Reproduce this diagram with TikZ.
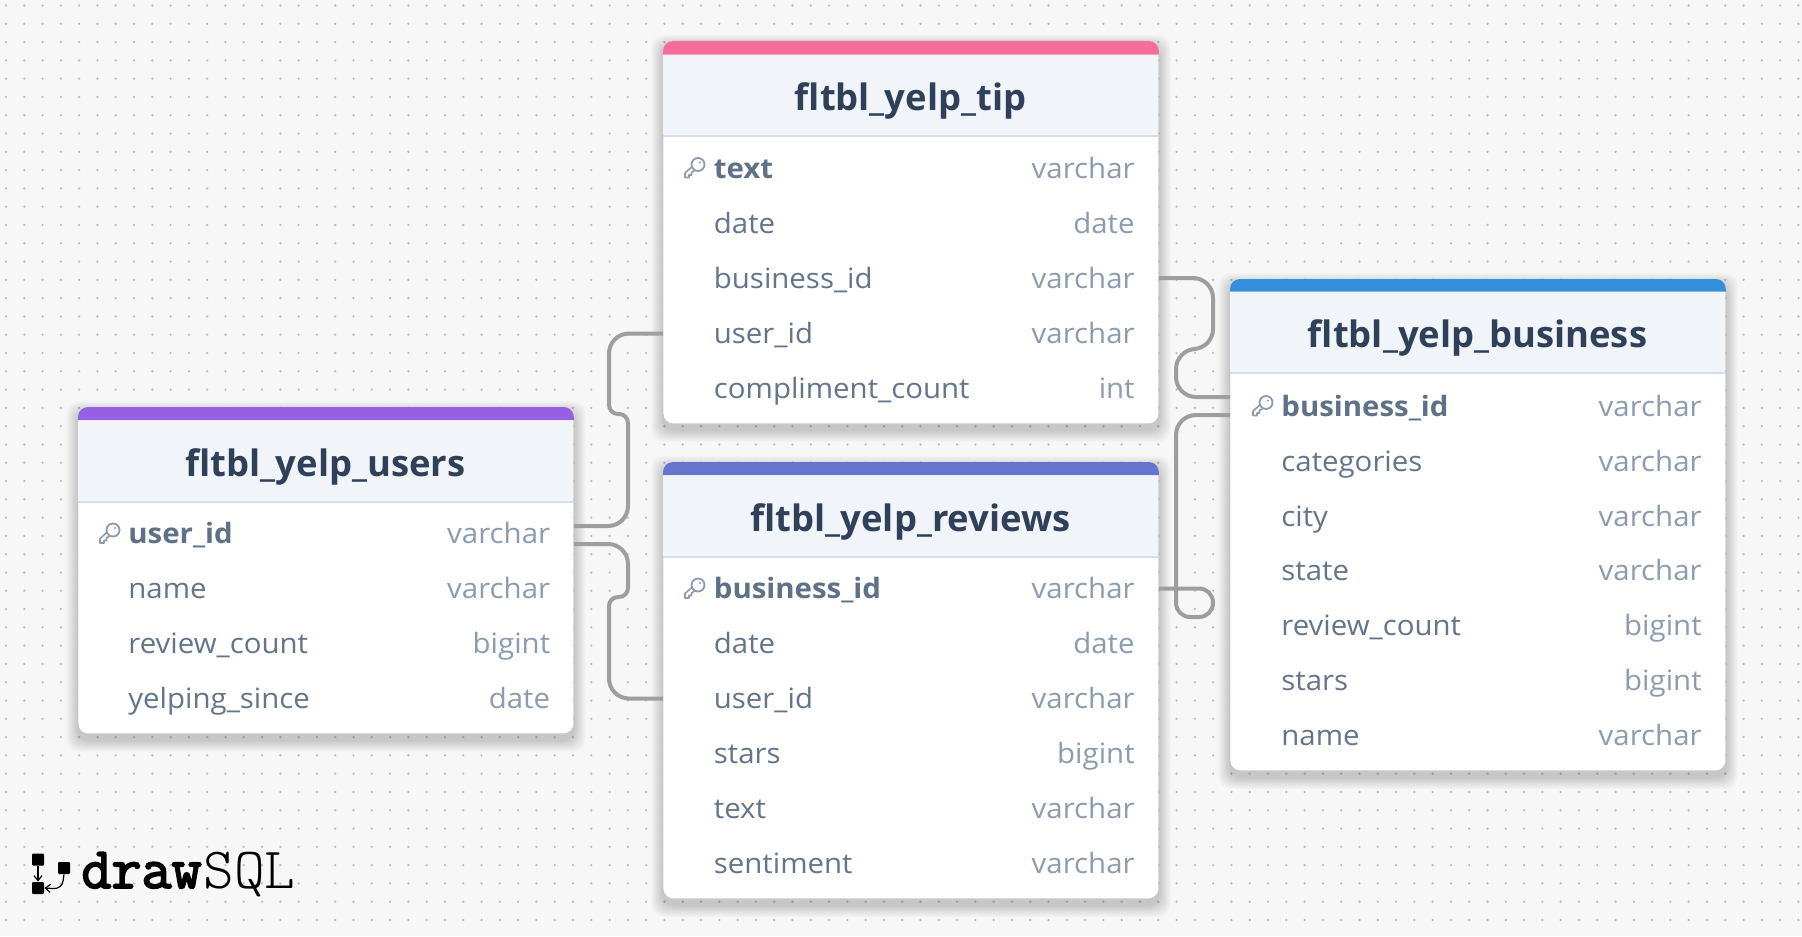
\documentclass[tikz,border=0pt]{standalone}
\usepackage{fontspec}
\usepackage{tikz}
\usepackage{xcolor}
\usetikzlibrary{arrows.meta}
\setmainfont[FakeStretch=1.05]{Open Sans}
\newfontfamily\titlefont{Open Sans}
\newfontfamily\logobold[FakeBold=3]{Latin Modern Mono}
\newfontfamily\logothin{Latin Modern Mono Light}

\definecolor{pagebg}{HTML}{F7F7F7}
\definecolor{griddot}{HTML}{BDBDBD}
\definecolor{relgray}{HTML}{9E9E9E}
\definecolor{headbg}{HTML}{F1F5F9}
\definecolor{headrule}{HTML}{D5DFEA}
\definecolor{titleink}{HTML}{2F4058}
\definecolor{keyink}{HTML}{5F7186}
\definecolor{nameink}{HTML}{64748B}
\definecolor{typeink}{HTML}{8C9BB0}
\definecolor{tippink}{HTML}{F66D9B}
\definecolor{revindigo}{HTML}{6574CD}
\definecolor{busblue}{HTML}{3490DC}
\definecolor{userpurple}{HTML}{9561E2}

\newcommand{\softshadow}[1]{
	\foreach \r in {1,...,12} {
		\fill[black,opacity=0.014,rounded corners=6pt]
			([shift={(-\r,{6-\r})}]#1.north west) rectangle ([shift={(\r,{6+\r})}]#1.south east);
	}
}

\tikzset{
	griddots/.style={griddot,line width=1.3pt,line cap=round,dash pattern=on 0pt off 9.145pt},
	tablebody/.style={anchor=north west,fill=white,rounded corners=5pt,inner sep=0pt,minimum width=247.5pt},
	headbox/.style={fill=headbg,inner sep=0pt,minimum width=247.5pt,minimum height=40.5pt,
		text=titleink,text height=16pt,text depth=0.8pt,font=\fontsize{18.2}{22}\titlefont\bfseries},
	headline/.style={headrule,line width=1pt},
	fieldname/.style={anchor=west,inner sep=0pt,text=nameink,text height=11.5pt,text depth=1.1pt,
		font=\fontsize{14}{17}\selectfont},
	keyname/.style={fieldname,text=keyink,font=\fontsize{14}{17}\selectfont\bfseries},
	fieldtype/.style={anchor=east,inner sep=0pt,text=typeink,text height=11.5pt,text depth=1.1pt,
		font=\fontsize{14}{17}\selectfont},
	relation/.style={relgray,line width=2pt},
	logobox/.style={fill=black,inner sep=0pt,minimum width=6pt,minimum height=6pt,rounded corners=0.6pt},
	keyicon/.pic={
		\draw[typeink,line width=0.8pt,fill=white,line join=round] (0,-3) -- (-9,5) -- (-9,9.5) -- (-5,9.5) -- (-5,7) -- (-2.5,7) -- (-2.5,4.5) -- (3,1) -- cycle;
		\draw[typeink,line width=0.9pt,fill=white] (4,-3.5) circle (6.5);
		\fill[typeink] (6,-5.5) circle (1.2);
	}
}

\begin{document}
\begin{tikzpicture}[x=0.5pt,y=-0.5pt]
	\useasboundingbox (0,0) rectangle (1802,936);
	\fill[pagebg] (0,0) rectangle (1802,936);

	% Draw the dot grid
	\foreach \j in {0,...,50} {
		\draw[griddots] (6,{5.5+18.29*\j}) -- (1802,{5.5+18.29*\j});
	}

	% Draw the tables
	\node[tablebody,minimum height=191pt] (tip) at (663,41) {};
	\node[tablebody,minimum height=218pt] (reviews) at (663,462) {};
	\node[tablebody,minimum height=245.5pt] (business) at (1230,279) {};
	\node[tablebody,minimum height=163pt] (users) at (78,407) {};
	\softshadow{tip}
	\softshadow{reviews}
	\softshadow{business}
	\softshadow{users}
	\node[tablebody,minimum height=191pt] at (663,41) {};
	\node[tablebody,minimum height=218pt] at (663,462) {};
	\node[tablebody,minimum height=245.5pt] at (1230,279) {};
	\node[tablebody,minimum height=163pt] at (78,407) {};

	% Draw the headers
	\node[headbox] (tiptitle) at (910.5,95.5) {fltbl\_yelp\_tip};
	\node[headbox] (reviewstitle) at (910.5,516) {fltbl\_yelp\_reviews};
	\node[headbox] (businesstitle) at (1477.5,332.5) {fltbl\_yelp\_business};
	\node[headbox] (userstitle) at (325.5,461) {fltbl\_yelp\_users};
	\draw[headline] (tiptitle.south west) -- (tiptitle.south east);
	\draw[headline] (reviewstitle.south west) -- (reviewstitle.south east);
	\draw[headline] (businesstitle.south west) -- (businesstitle.south east);
	\draw[headline] (userstitle.south west) -- (userstitle.south east);

	% Draw the coloured bands
	\fill[tippink] (tip.west |- tiptitle.north) [rounded corners=5pt] -- (tip.north west) -- (tip.north east) [sharp corners] -- (tip.east |- tiptitle.north) -- cycle;
	\fill[revindigo] (reviews.west |- reviewstitle.north) [rounded corners=5pt] -- (reviews.north west) -- (reviews.north east) [sharp corners] -- (reviews.east |- reviewstitle.north) -- cycle;
	\fill[busblue] (business.west |- businesstitle.north) [rounded corners=5pt] -- (business.north west) -- (business.north east) [sharp corners] -- (business.east |- businesstitle.north) -- cycle;
	\fill[userpurple] (users.west |- userstitle.north) [rounded corners=5pt] -- (users.north west) -- (users.north east) [sharp corners] -- (users.east |- userstitle.north) -- cycle;

	% Add the fields of fltbl_yelp_tip
	\pic at (694,168) {keyicon};
	\node[keyname] (tiptext) at (713.5,168) {text};
	\node[fieldtype] at (1135,168) {varchar};
	\node[fieldname] (tipdate) at (713.5,223) {date};
	\node[fieldtype] at (1135,223) {date};
	\node[fieldname] (tipbusiness) at (713.5,278) {business\_id};
	\node[fieldtype] at (1135,278) {varchar};
	\node[fieldname] (tipuser) at (713.5,333.5) {user\_id};
	\node[fieldtype] at (1135,333.5) {varchar};
	\node[fieldname] (tipcount) at (713.5,388) {compliment\_count};
	\node[fieldtype] at (1135,388) {int};

	% Add the fields of fltbl_yelp_reviews
	\pic at (694,588.5) {keyicon};
	\node[keyname] (reviewsbusiness) at (713.5,588.5) {business\_id};
	\node[fieldtype] at (1135,588.5) {varchar};
	\node[fieldname] (reviewsdate) at (713.5,643.5) {date};
	\node[fieldtype] at (1135,643.5) {date};
	\node[fieldname] (reviewsuser) at (713.5,698.5) {user\_id};
	\node[fieldtype] at (1135,698.5) {varchar};
	\node[fieldname] (reviewsstars) at (713.5,753) {stars};
	\node[fieldtype] at (1135,753) {bigint};
	\node[fieldname] (reviewstext) at (713.5,808) {text};
	\node[fieldtype] at (1135,808) {varchar};
	\node[fieldname] (reviewssentiment) at (713.5,863) {sentiment};
	\node[fieldtype] at (1135,863) {varchar};

	% Add the fields of fltbl_yelp_business
	\pic at (1262,406) {keyicon};
	\node[keyname] (businessid) at (1281,406) {business\_id};
	\node[fieldtype] at (1702,406) {varchar};
	\node[fieldname] (businesscat) at (1281,461) {categories};
	\node[fieldtype] at (1702,461) {varchar};
	\node[fieldname] (businesscity) at (1281,516) {city};
	\node[fieldtype] at (1702,516) {varchar};
	\node[fieldname] (businessstate) at (1281,570.5) {state};
	\node[fieldtype] at (1702,570.5) {varchar};
	\node[fieldname] (businesscount) at (1281,625.5) {review\_count};
	\node[fieldtype] at (1702,625.5) {bigint};
	\node[fieldname] (businessstars) at (1281,680) {stars};
	\node[fieldtype] at (1702,680) {bigint};
	\node[fieldname] (businessname) at (1281,735) {name};
	\node[fieldtype] at (1702,735) {varchar};

	% Add the fields of fltbl_yelp_users
	\pic at (109,533.5) {keyicon};
	\node[keyname] (usersid) at (128,533.5) {user\_id};
	\node[fieldtype] at (550.5,533.5) {varchar};
	\node[fieldname] (usersname) at (128,588.5) {name};
	\node[fieldtype] at (550.5,588.5) {varchar};
	\node[fieldname] (userscount) at (128,643.5) {review\_count};
	\node[fieldtype] at (550.5,643.5) {bigint};
	\node[fieldname] (userssince) at (128,698.5) {yelping\_since};
	\node[fieldtype] at (550.5,698.5) {date};

	% Draw the relations
	\draw[relation,rounded corners=10pt] (tipuser -| tip.west) -- (609,333.5) [rounded corners=4.5pt] -- (609,414) -- (628,414) [rounded corners=10pt] -- (628,526) -- (users.east |- 573,526);
	\draw[relation,rounded corners=10pt] (users.east |- 573,544) -- (628,544) [rounded corners=4.5pt] -- (628,597) -- (609,597) [rounded corners=10pt] -- (609,698.5) -- (reviewsuser -| reviews.west);
	\draw[relation,rounded corners=10pt] (tipbusiness -| tip.east) -- (1213,278) -- (1213,349) -- (1176,349) -- (1176,397) -- (business.west |- 1230,397);
	\draw[relation,rounded corners=7pt] (reviewsbusiness -| reviews.east) -- (1213,588.5) -- (1213,617) -- (1176,617) [rounded corners=10pt] -- (1176,415) -- (business.west |- 1230,415);

	% Draw the logo
	\node[logobox] (logoa) at (38,859.5) {};
	\node[logobox] (logob) at (38,888) {};
	\node[logobox] (logoc) at (64,868) {};
	\draw[-{Straight Barb[length=2.5pt,width=4pt]},line width=0.6pt] (logoa) -- (logob.north);
	\draw[-{Straight Barb[length=2.5pt,width=4pt]},line width=0.6pt,rounded corners=4pt] (logoc.south) -- (62,889) -- (logob.east);
	\node[anchor=base west,inner sep=0pt,font=\fontsize{29.2}{32}\logobold] (logodraw) at (81,888) {draw};
	\node[anchor=base west,inner sep=0pt,font=\fontsize{29.2}{32}\logothin] (logosql) at (203,888) {SQL};
\end{tikzpicture}
\end{document}
